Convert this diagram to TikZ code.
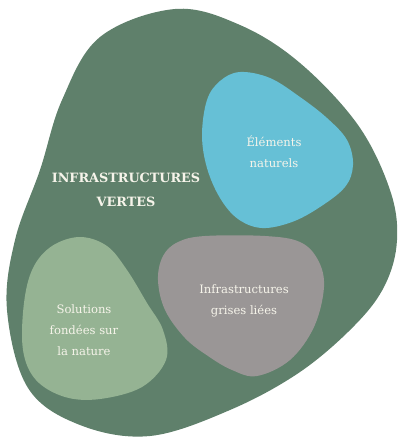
\documentclass[tikz,border=0pt]{standalone}
\usepackage{fontspec}
\setmainfont{DejaVu Serif}
\definecolor{outergreen}{HTML}{5F806B}
\definecolor{blobblue}{HTML}{66C0D6}
\definecolor{blobgray}{HTML}{9A9696}
\definecolor{blobgreen}{HTML}{95B393}
\definecolor{txt}{HTML}{F6F4EA}
\begin{document}
\begin{tikzpicture}[x=1pt,y=-1pt,
  lbl/.style={text=txt,align=center,font=\fontsize{11.6}{21}\selectfont},
  title/.style={text=txt,align=center,font=\bfseries\fontsize{12.8}{24}\selectfont}]
\useasboundingbox (0,0) rectangle (400,440);
\fill[outergreen] plot[smooth cycle,tension=0.6] coordinates {
 (175,9) (240,25) (300,63) (358,125) (390,190) (397,240) (385,285) (355,325)
 (300,372) (230,410) (150,436) (80,425) (28,388) (7,310) (15,240)
 (40,170) (62,100) (100,37)};
\fill[blobblue] plot[smooth cycle,tension=0.6] coordinates {
 (240,72) (270,78) (300,97) (327,118) (347,140) (353,165) (345,187) (320,207)
 (292,222) (262,228) (238,219) (220,198) (207,168) (202,135) (207,100) (220,81)};
\fill[blobgray] plot[smooth cycle,tension=0.6] coordinates {
 (205,236) (265,236) (300,242) (318,260) (324,287) (314,327) (290,360)
 (257,376) (232,370) (208,356) (185,338) (165,310) (158,280) (163,256) (178,242)};
\fill[blobgreen] plot[smooth cycle,tension=0.6] coordinates {
 (80,237) (107,246) (127,270) (147,303) (163,330) (166,360) (142,387) (100,399)
 (65,397) (36,380) (23,350) (24,303) (33,268) (52,246)};
\node[title] (t) at (126,190) {INFRASTRUCTURES\\VERTES};
\node[lbl] (e) at (274,152) {Éléments\\naturels};
\node[lbl] (g) at (244,301) {Infrastructures\\grises liées};
\node[lbl] (s) at (84,330) {Solutions\\fondées sur\\la nature};
\end{tikzpicture}
\end{document}
